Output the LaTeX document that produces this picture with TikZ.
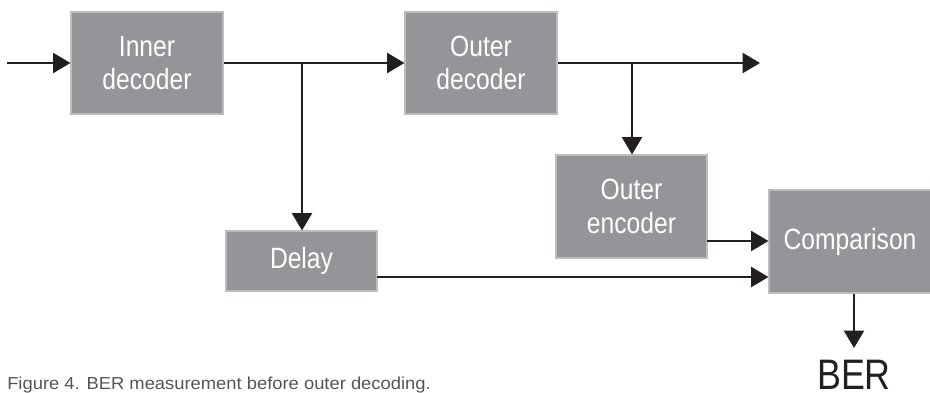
\documentclass[tikz,border=0pt]{standalone}
\usepackage{fontspec}
\setmainfont{Liberation Sans}
\newfontfamily\condfont[FakeStretch=0.84]{Liberation Sans}
\newfontfamily\capfont[FakeStretch=1.06]{Liberation Sans}
\usetikzlibrary{arrows.meta,calc}
\definecolor{boxgray}{HTML}{939598}
\definecolor{boxedge}{HTML}{BCBDBF}
\definecolor{linecol}{HTML}{231F20}
\definecolor{capgray}{HTML}{555555}
\tikzset{
  blk/.style={rectangle, fill=boxgray, draw=boxedge, line width=0.8pt, text=white,
    font=\condfont\fontsize{22}{25}\selectfont, align=center, inner sep=0pt},
  arr/.style={draw=linecol, line width=1.6pt, -{Triangle[length=13pt,width=15pt]}},
  ln/.style={draw=linecol, line width=1.6pt}
}
\begin{document}
\begin{tikzpicture}[x=0.75pt,y=-0.75pt]
\useasboundingbox (0,0) rectangle (930,392);
\node[blk, minimum width=152*0.75pt, minimum height=102*0.75pt] (inner) at (147,63) {Inner\\decoder};
\node[blk, minimum width=152*0.75pt, minimum height=102*0.75pt] (outd) at (481,63) {Outer\\decoder};
\node[blk, minimum width=151*0.75pt, minimum height=60*0.75pt] (delay) at (301.5,261) {Delay};
\node[blk, minimum width=151*0.75pt, minimum height=103*0.75pt] (enc) at (631.5,206.5) {Outer\\encoder};
\node[blk, minimum width=162*0.75pt, minimum height=103*0.75pt] (cmp) at (850,241.5) {Comparison};
\node[font=\condfont\fontsize{32}{34}\selectfont, text=linecol, inner sep=0pt, anchor=base] (ber) at (854,389) {BER};
\node[font=\capfont\fontsize{13}{15}\selectfont, text=capgray, anchor=base west, inner sep=0pt] (cap) at (7,389) {Figure 4. BER measurement before outer decoding.};
\coordinate (in) at (7,63);
\coordinate (out) at (760,63);
\coordinate (b1) at (302,63);
\coordinate (b2) at (632,63);
\coordinate (e1) at (707,241);
\coordinate (d1) at (377,277);
\coordinate (bt) at (854,348);
\draw[arr] (in) -- (inner.west);
\draw[arr] (inner.east) -- (outd.west);
\draw[arr] (b1) -- (b1 |- delay.north);
\draw[arr] (outd.east) -- (out);
\draw[arr] (b2) -- (b2 |- enc.north);
\draw[arr] (e1) -- (e1 -| cmp.west);
\draw[arr] (d1) -- (d1 -| cmp.west);
\draw[arr] (cmp.south -| bt) -- (bt);
\end{tikzpicture}
\end{document}
